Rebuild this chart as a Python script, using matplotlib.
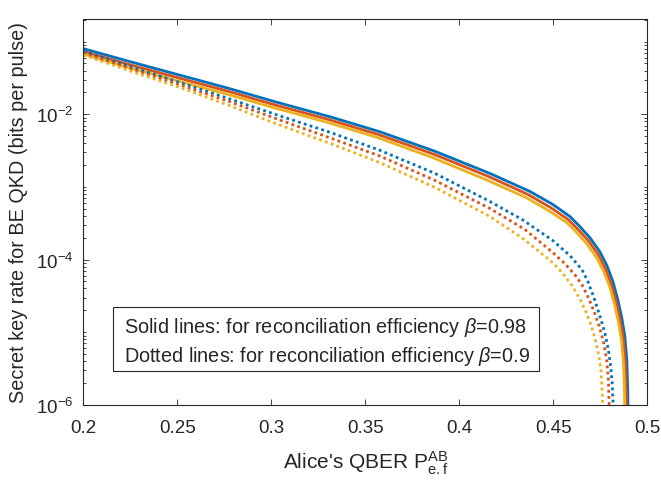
import numpy as np
import matplotlib
matplotlib.use("Agg")
import matplotlib.pyplot as plt
from matplotlib.ticker import FixedLocator, LogFormatterSciNotation, NullFormatter
from matplotlib.patches import Rectangle

plt.rcParams['font.family'] = ['Liberation Sans', 'DejaVu Sans']
plt.rcParams['mathtext.fontset'] = 'custom'
plt.rcParams['mathtext.rm'] = 'Liberation Sans'
plt.rcParams['mathtext.it'] = 'Liberation Sans:italic'
plt.rcParams['mathtext.bf'] = 'Liberation Sans:bold'

# ---- data (x = Alice's QBER, y = key rate) ----
x_solid_blue = [0.2000, 0.2248, 0.2514, 0.2780, 0.3020, 0.3312, 0.3578, 0.3871, 0.4163, 0.4376,
                0.4498, 0.4589, 0.4642, 0.4695, 0.4748, 0.4786, 0.4818, 0.4844, 0.4865, 0.4881,
                0.4892, 0.4897, 0.4899, 0.4900]
y_solid_blue = [8.00e-2, 5.30e-2, 3.45e-2, 2.247e-2, 1.487e-2, 9.24e-3, 5.74e-3, 3.09e-3, 1.535e-3, 8.67e-4,
                5.74e-4, 3.92e-4, 2.85e-4, 2.01e-4, 1.289e-4, 8.27e-5, 4.97e-5, 2.81e-5, 1.585e-5, 8.95e-6,
                4.18e-6, 1.61e-6, 6.2e-7, 1e-8]

x_solid_red = [0.2000, 0.2240, 0.2506, 0.2772, 0.3011, 0.3304, 0.3570, 0.3862, 0.4155, 0.4368,
               0.4490, 0.4580, 0.4633, 0.4687, 0.4740, 0.4777, 0.4809, 0.4836, 0.4857, 0.4873,
               0.4884, 0.4889, 0.4891, 0.4892]
y_solid_red = [7.35e-2, 4.86e-2, 3.167e-2, 2.063e-2, 1.365e-2, 8.48e-3, 5.26e-3, 2.835e-3, 1.396e-3, 7.83e-4,
               5.13e-4, 3.56e-4, 2.59e-4, 1.83e-4, 1.172e-4, 7.59e-5, 4.59e-5, 2.59e-5, 1.464e-5, 8.26e-6,
               3.86e-6, 1.488e-6, 5.83e-7, 1e-8]

x_solid_yellow = [0.2000, 0.2231, 0.2497, 0.2763, 0.3003, 0.3295, 0.3561, 0.3854, 0.4146, 0.4359,
                  0.4481, 0.4572, 0.4625, 0.4678, 0.4731, 0.4768, 0.4801, 0.4827, 0.4848, 0.4864,
                  0.4875, 0.4880, 0.4882, 0.4883]
y_solid_yellow = [6.75e-2, 4.464e-2, 2.906e-2, 1.893e-2, 1.253e-2, 7.78e-3, 4.83e-3, 2.56e-3, 1.249e-3, 7.07e-4,
                  4.62e-4, 3.24e-4, 2.36e-4, 1.662e-4, 1.066e-4, 6.96e-5, 4.24e-5, 2.39e-5, 1.352e-5, 7.63e-6,
                  3.56e-6, 1.373e-6, 5.3e-7, 1e-8]

x_dot_blue = [0.2000, 0.2248, 0.2514, 0.2780, 0.3020, 0.3312, 0.3578, 0.3871, 0.4163, 0.4339,
              0.4498, 0.4589, 0.4653, 0.4685, 0.4717, 0.4748, 0.4775, 0.4794, 0.4807, 0.4815,
              0.4819, 0.4821, 0.4822]
y_dot_blue = [7.40e-2, 4.55e-2, 2.736e-2, 1.621e-2, 1.00e-2, 5.65e-3, 3.19e-3, 1.535e-3, 6.31e-4, 3.505e-4,
              1.83e-4, 1.136e-4, 7.28e-5, 4.97e-5, 2.99e-5, 1.689e-5, 9.84e-6, 5.74e-6, 3.24e-6, 1.828e-6,
              1.0e-6, 4.5e-7, 1e-8]

x_dot_red = [0.2000, 0.2248, 0.2514, 0.2780, 0.3020, 0.3312, 0.3578, 0.3871, 0.4163, 0.4350,
             0.4498, 0.4562, 0.4615, 0.4653, 0.4690, 0.4722, 0.4748, 0.4770, 0.4786, 0.4794,
             0.4798, 0.4800, 0.4801]
y_dot_red = [6.94e-2, 4.242e-2, 2.536e-2, 1.487e-2, 8.81e-3, 4.74e-3, 2.66e-3, 1.229e-3, 5.05e-4, 2.59e-4,
             1.249e-4, 8.81e-5, 6.21e-5, 4.52e-5, 2.90e-5, 1.80e-5, 1.153e-5, 6.94e-6, 3.92e-6, 2.21e-6,
             1.0e-6, 4.5e-7, 1e-8]

x_dot_yellow = [0.2000, 0.2248, 0.2514, 0.2780, 0.3020, 0.3312, 0.3578, 0.3871, 0.4163, 0.4339,
                0.4498, 0.4552, 0.4600, 0.4642, 0.4674, 0.4701, 0.4722, 0.4740, 0.4753, 0.4759,
                0.4763, 0.4765, 0.4766]
y_dot_yellow = [6.51e-2, 3.956e-2, 2.335e-2, 1.310e-2, 7.51e-3, 3.98e-3, 2.157e-3, 9.84e-4, 3.92e-4, 1.949e-4,
                9.09e-5, 6.41e-5, 4.38e-5, 2.90e-5, 1.918e-5, 1.269e-5, 8.40e-6, 5.21e-6, 3.24e-6, 1.949e-6,
                1.0e-6, 4.5e-7, 1e-8]

colors = ['#0072BD', '#D95319', '#EDB120']

x_ticks = [0.2, 0.25, 0.3, 0.35, 0.4, 0.45, 0.5]
x_tick_labels = ['0.2', '0.25', '0.3', '0.35', '0.4', '0.45', '0.5']
y_major = [1e-6, 1e-4, 1e-2]

legend_lines = [r'Solid lines: for reconciliation efficiency $\beta$=0.98',
                r'Dotted lines: for reconciliation efficiency $\beta$=0.9']

fig = plt.figure(figsize=(6.61, 4.89), dpi=100)
ax = fig.add_axes([0.126, 0.170, 0.853, 0.789])

solid = [(x_solid_blue, y_solid_blue), (x_solid_red, y_solid_red), (x_solid_yellow, y_solid_yellow)]
dotted = [(x_dot_blue, y_dot_blue), (x_dot_red, y_dot_red), (x_dot_yellow, y_dot_yellow)]

for (xs, ys), c in zip(solid, colors):
    ax.plot(xs, ys, color=c, lw=2.0, solid_joinstyle='round')
for (xs, ys), c in zip(dotted, colors):
    ax.plot(xs, ys, color=c, lw=2.0, linestyle=(0, (1.0, 1.2)), dash_capstyle='butt')

ax.set_yscale('log')
ax.set_xlim(0.2, 0.5)
ax.set_ylim(1e-6, 0.2043)

ax.set_xticks(x_ticks)
ax.set_xticklabels(x_tick_labels)
ax.yaxis.set_major_locator(FixedLocator(y_major))
ax.yaxis.set_major_formatter(LogFormatterSciNotation())
minor = [k * 10.0 ** e for e in range(-6, 0) for k in range(1, 10) if not (k == 1 and e in (-6, -4, -2))]
ax.yaxis.set_minor_locator(FixedLocator(minor))
ax.yaxis.set_minor_formatter(NullFormatter())

ax.tick_params(which='both', direction='in', top=True, right=True, width=0.6, colors='#262626',
               labelcolor='#262626', labelsize=13.5)
ax.tick_params(axis='x', which='major', length=4.3, pad=10.5)
ax.tick_params(axis='y', which='major', length=4.3, pad=7)
ax.tick_params(axis='y', which='minor', length=2.3)
for s in ax.spines.values():
    s.set_linewidth(0.8)
    s.set_color('#262626')

ax.set_xlabel(r"Alice's QBER P$^{\rm AB}_{\rm e.f}$", fontsize=15, color='#262626', labelpad=9)
ax.set_ylabel('Secret key rate for BE QKD (bits per pulse)', fontsize=14.3, color='#262626', labelpad=6)

# annotation box
box = Rectangle((113.3 / 661, 1 - 371.7 / 489), (539 - 113.3) / 661, (371.7 - 308.3) / 489,
                transform=fig.transFigure, facecolor='white', edgecolor='#262626', lw=0.8, zorder=5)
fig.patches.append(box)
fig.text(124 / 661, 1 - 328 / 489, legend_lines[0], fontsize=14.3, color='#262626', va='center', ha='left', zorder=6)
fig.text(124 / 661, 1 - 356 / 489, legend_lines[1], fontsize=14.3, color='#262626', va='center', ha='left', zorder=6)

fig.savefig('out.png', dpi=100)
